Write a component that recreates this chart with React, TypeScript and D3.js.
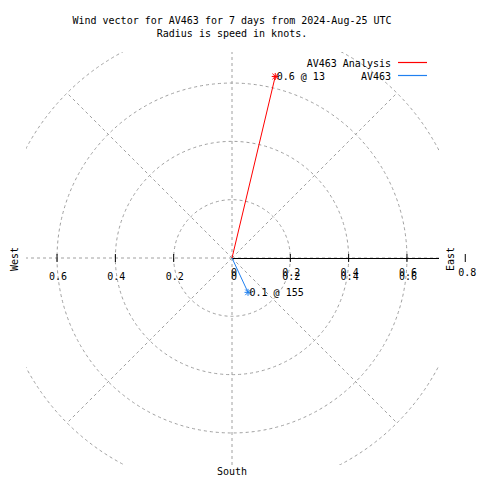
import React from 'react';
import * as d3 from 'd3';

const titleLines = ['Wind vector for AV463 for 7 days from 2024-Aug-25 UTC', 'Radius is speed in knots.'];
const seriesNames = ['AV463 Analysis', 'AV463'];
const seriesColors = ['#ff0000', '#2080f0'];
const speeds = [0.64, 0.13];
const directions = [13.4, 155];
const radialTicks = [0.2, 0.4, 0.6, 0.8];
const sideTicks = [0.2, 0.4, 0.6];
const gridAngles = [0, 45, 90, 135, 180, 225, 270, 315];
const compassLabels = ['West', 'East', 'South'];

const W = 480, H = 480;
const cx = 232, cy = 258;
const rScale = d3.scaleLinear().domain([0, 1]).range([0, 291.6]);
const plot = { x0: 26, x1: 439, y0: 52, y1: 465 };
const font = '"DejaVu Sans Mono", monospace';
const grid = '#a0a0a0';

function pt(r: number, deg: number): [number, number] {
  const a = (deg * Math.PI) / 180;
  return [cx + rScale(r) * Math.sin(a), cy - rScale(r) * Math.cos(a)];
}

export default function App() {
  const rMax = radialTicks[radialTicks.length - 1];
  const fmt = d3.format('.1f');
  return (
    <svg width={W} height={H} style={{ position: 'absolute', left: 0, top: 0, background: '#fff' }}
      fontFamily={font} fontSize={10}>
      <defs>
        <clipPath id="plotclip">
          <rect x={plot.x0} y={plot.y0} width={plot.x1 - plot.x0} height={plot.y1 - plot.y0} />
        </clipPath>
      </defs>
      <rect width={W} height={H} fill="#fff" />
      {titleLines.map((t, i) => (
        <text key={t} x={232} y={24 + i * 13} textAnchor="middle" fill="#000">{t}</text>
      ))}
      <g clipPath="url(#plotclip)" fill="none" stroke={grid} strokeDasharray="3,3" strokeWidth={1}>
        {radialTicks.map((r) => (
          <circle key={r} cx={cx} cy={cy} r={rScale(r)} />
        ))}
        {gridAngles.map((a) => {
          const [x, y] = pt(rMax, a);
          return <line key={a} x1={cx} y1={cy} x2={x} y2={y} />;
        })}
      </g>
      {/* right axis */}
      <line x1={cx} y1={cy + 0.5} x2={plot.x1} y2={cy + 0.5} stroke="#000" strokeWidth={1} />
      {radialTicks.map((r) => (
        <line key={'rt' + r} x1={cx + rScale(r)} x2={cx + rScale(r)} y1={cy - 4} y2={cy + 4} stroke="#000" />
      ))}
      {sideTicks.map((r) => (
        <line key={'lt' + r} x1={cx - rScale(r)} x2={cx - rScale(r)} y1={cy - 4} y2={cy + 4} stroke="#000" />
      ))}
      {/* tick labels */}
      {sideTicks.map((r) => (
        <text key={'ll' + r} x={cx - rScale(r) + 1} y={280} textAnchor="middle">{fmt(r)}</text>
      ))}
      {sideTicks.map((r) => (
        <g key={'rl' + r}>
          <text x={cx + rScale(r) + 1} y={276} textAnchor="middle">{fmt(r)}</text>
          <text x={cx + rScale(r) + 1} y={280} textAnchor="middle">{fmt(r)}</text>
        </g>
      ))}
      <text x={cx + 2} y={276} textAnchor="middle">0</text>
      <text x={cx + 2} y={280} textAnchor="middle">0</text>
      <text x={cx + rScale(0.8) + 2} y={276} textAnchor="middle">{fmt(0.8)}</text>
      {/* compass labels */}
      <text transform={`translate(18,${cy + 1}) rotate(-90)`} textAnchor="middle">{compassLabels[0]}</text>
      <text transform={`translate(454,${cy + 1}) rotate(-90)`} textAnchor="middle">{compassLabels[1]}</text>
      <text x={cx} y={475} textAnchor="middle">{compassLabels[2]}</text>
      {/* vectors */}
      {speeds.map((s, i) => {
        const [x, y] = pt(s, directions[i]);
        const m = 3.5;
        return (
          <g key={seriesNames[i]} stroke={seriesColors[i]} strokeWidth={1}>
            <line x1={cx} y1={cy} x2={x} y2={y} />
            <line x1={x - m} y1={y} x2={x + m} y2={y} />
            <line x1={x} y1={y - m} x2={x} y2={y + m} />
            <line x1={x - m * 0.8} y1={y - m * 0.8} x2={x + m * 0.8} y2={y + m * 0.8} />
            <line x1={x - m * 0.8} y1={y + m * 0.8} x2={x + m * 0.8} y2={y - m * 0.8} />
            <text x={x + 1.5} y={y + 3.5} stroke="none" fill="#000">
              {`${fmt(s)} @ ${d3.format('.0f')(Math.floor(directions[i]))}`}
            </text>
          </g>
        );
      })}
      {/* legend */}
      {seriesNames.map((n, i) => (
        <g key={'lg' + n}>
          <text x={391} y={67 + i * 13} textAnchor="end">{n}</text>
          <line x1={398} x2={427} y1={62.5 + i * 13} y2={62.5 + i * 13} stroke={seriesColors[i]} strokeWidth={1.2} />
        </g>
      ))}
    </svg>
  );
}
